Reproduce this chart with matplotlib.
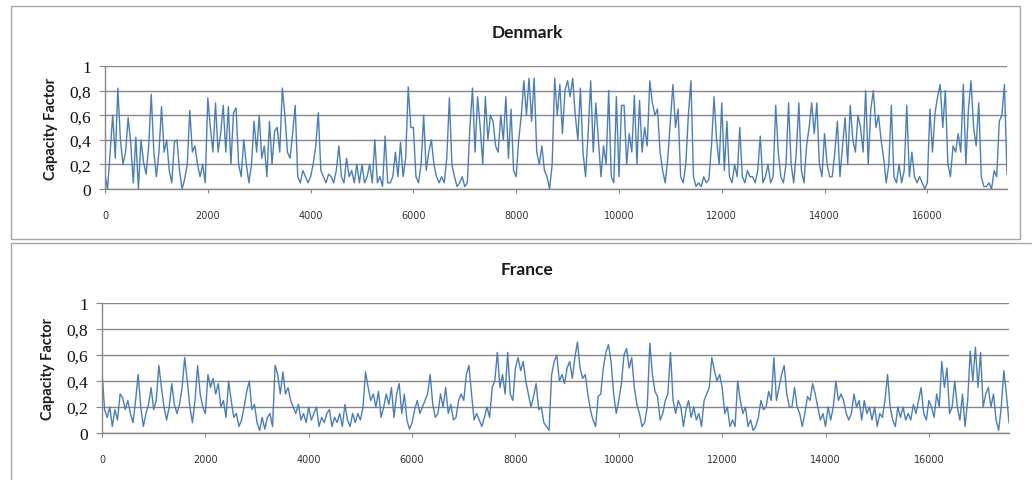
import numpy as np
import matplotlib
matplotlib.use("Agg")
import matplotlib.pyplot as plt
from matplotlib.patches import Rectangle

# hourly capacity factor, every 50 h (one row = 2000 h)
STEP_H = 50
DENMARK = [
    0.12, 0.0, 0.3, 0.6, 0.25, 0.82, 0.4, 0.2, 0.3, 0.58, 0.38, 0.05, 0.42, 0.0, 0.4, 0.22, 0.12, 0.35, 0.77, 0.3,
    0.1, 0.3, 0.67, 0.3, 0.4, 0.15, 0.05, 0.38, 0.4, 0.15, 0.0, 0.08, 0.2, 0.64, 0.3, 0.35, 0.2, 0.1, 0.2, 0.05,
    0.74, 0.5, 0.3, 0.7, 0.3, 0.45, 0.68, 0.3, 0.67, 0.2, 0.62, 0.66, 0.2, 0.1, 0.4, 0.2, 0.05, 0.2, 0.55, 0.3,
    0.6, 0.25, 0.35, 0.1, 0.55, 0.2, 0.47, 0.5, 0.3, 0.82, 0.6, 0.3, 0.25, 0.45, 0.68, 0.1, 0.05, 0.15, 0.1, 0.05,
    0.1, 0.2, 0.35, 0.62, 0.15, 0.1, 0.05, 0.12, 0.1, 0.05, 0.15, 0.35, 0.1, 0.05, 0.25, 0.1, 0.15, 0.05, 0.2, 0.05,
    0.2, 0.05, 0.1, 0.2, 0.05, 0.4, 0.05, 0.1, 0.02, 0.43, 0.05, 0.05, 0.1, 0.3, 0.1, 0.38, 0.1, 0.25, 0.83, 0.5,
    0.5, 0.1, 0.05, 0.2, 0.6, 0.15, 0.3, 0.4, 0.2, 0.1, 0.05, 0.1, 0.05, 0.25, 0.74, 0.2, 0.1, 0.02, 0.05, 0.1,
    0.02, 0.05, 0.5, 0.82, 0.3, 0.75, 0.5, 0.2, 0.75, 0.4, 0.6, 0.55, 0.35, 0.3, 0.6, 0.4, 0.75, 0.25, 0.65, 0.15,
    0.1, 0.4, 0.6, 0.88, 0.6, 0.9, 0.55, 0.9, 0.3, 0.2, 0.35, 0.15, 0.1, 0.0, 0.2, 0.9, 0.6, 0.85, 0.45, 0.8,
    0.88, 0.75, 0.9, 0.6, 0.4, 0.82, 0.3, 0.1, 0.45, 0.88, 0.3, 0.7, 0.4, 0.1, 0.35, 0.2, 0.8, 0.1, 0.05, 0.75,
    0.1, 0.68, 0.68, 0.2, 0.45, 0.3, 0.76, 0.2, 0.72, 0.3, 0.5, 0.35, 0.88, 0.7, 0.6, 0.65, 0.3, 0.15, 0.05, 0.25,
    0.55, 0.85, 0.5, 0.65, 0.1, 0.05, 0.2, 0.6, 0.88, 0.1, 0.02, 0.05, 0.02, 0.1, 0.05, 0.08, 0.35, 0.75, 0.4, 0.2,
    0.7, 0.15, 0.55, 0.1, 0.05, 0.2, 0.1, 0.5, 0.1, 0.05, 0.15, 0.1, 0.1, 0.05, 0.15, 0.43, 0.05, 0.1, 0.2, 0.05,
    0.1, 0.68, 0.3, 0.1, 0.05, 0.2, 0.7, 0.2, 0.05, 0.3, 0.7, 0.15, 0.05, 0.35, 0.5, 0.7, 0.45, 0.7, 0.2, 0.1,
    0.45, 0.2, 0.1, 0.1, 0.3, 0.55, 0.1, 0.35, 0.58, 0.2, 0.68, 0.4, 0.3, 0.6, 0.5, 0.3, 0.8, 0.2, 0.65, 0.8,
    0.5, 0.6, 0.4, 0.25, 0.05, 0.2, 0.68, 0.1, 0.05, 0.2, 0.05, 0.15, 0.68, 0.1, 0.3, 0.1, 0.05, 0.1, 0.05, 0.0,
    0.05, 0.65, 0.3, 0.62, 0.75, 0.85, 0.5, 0.8, 0.2, 0.1, 0.35, 0.3, 0.45, 0.3, 0.85, 0.2, 0.65, 0.88, 0.5, 0.35,
    0.7, 0.1, 0.02, 0.02, 0.05, 0.0, 0.15, 0.1, 0.55, 0.6, 0.85, 0.12,
]
FRANCE = [
    0.47, 0.18, 0.12, 0.2, 0.05, 0.18, 0.1, 0.3, 0.27, 0.18, 0.25, 0.15, 0.08, 0.25, 0.45, 0.2, 0.05, 0.15, 0.22, 0.35,
    0.18, 0.25, 0.52, 0.35, 0.2, 0.1, 0.2, 0.38, 0.22, 0.15, 0.22, 0.35, 0.58, 0.4, 0.2, 0.08, 0.25, 0.52, 0.3, 0.2,
    0.15, 0.45, 0.35, 0.42, 0.3, 0.38, 0.2, 0.25, 0.12, 0.4, 0.25, 0.12, 0.15, 0.05, 0.1, 0.2, 0.32, 0.4, 0.18, 0.22,
    0.08, 0.02, 0.12, 0.03, 0.12, 0.15, 0.05, 0.52, 0.45, 0.3, 0.47, 0.3, 0.35, 0.25, 0.2, 0.15, 0.22, 0.1, 0.15, 0.08,
    0.2, 0.1, 0.15, 0.2, 0.05, 0.12, 0.08, 0.15, 0.18, 0.05, 0.12, 0.08, 0.15, 0.05, 0.22, 0.1, 0.05, 0.15, 0.08, 0.15,
    0.1, 0.2, 0.47, 0.35, 0.25, 0.3, 0.2, 0.32, 0.12, 0.2, 0.3, 0.22, 0.35, 0.12, 0.3, 0.38, 0.15, 0.3, 0.1, 0.03,
    0.08, 0.18, 0.25, 0.15, 0.2, 0.25, 0.3, 0.45, 0.22, 0.12, 0.15, 0.3, 0.2, 0.35, 0.15, 0.22, 0.1, 0.12, 0.25, 0.3,
    0.25, 0.45, 0.52, 0.3, 0.1, 0.15, 0.1, 0.05, 0.12, 0.2, 0.12, 0.35, 0.4, 0.62, 0.35, 0.45, 0.3, 0.62, 0.3, 0.25,
    0.5, 0.58, 0.48, 0.55, 0.4, 0.3, 0.2, 0.28, 0.38, 0.18, 0.2, 0.08, 0.05, 0.02, 0.45, 0.55, 0.6, 0.4, 0.45, 0.38,
    0.5, 0.55, 0.42, 0.58, 0.7, 0.5, 0.42, 0.45, 0.3, 0.18, 0.1, 0.05, 0.28, 0.3, 0.5, 0.62, 0.68, 0.55, 0.3, 0.15,
    0.25, 0.38, 0.6, 0.65, 0.5, 0.58, 0.35, 0.22, 0.15, 0.05, 0.08, 0.2, 0.69, 0.45, 0.32, 0.28, 0.1, 0.15, 0.25, 0.3,
    0.62, 0.25, 0.15, 0.25, 0.2, 0.05, 0.18, 0.25, 0.12, 0.2, 0.1, 0.15, 0.05, 0.25, 0.3, 0.35, 0.58, 0.48, 0.4, 0.45,
    0.35, 0.15, 0.2, 0.05, 0.1, 0.05, 0.4, 0.25, 0.15, 0.2, 0.05, 0.1, 0.02, 0.05, 0.12, 0.25, 0.18, 0.2, 0.32, 0.25,
    0.58, 0.25, 0.35, 0.45, 0.52, 0.3, 0.2, 0.2, 0.35, 0.2, 0.15, 0.05, 0.15, 0.28, 0.25, 0.38, 0.3, 0.2, 0.1, 0.15,
    0.05, 0.2, 0.1, 0.2, 0.4, 0.25, 0.3, 0.25, 0.15, 0.1, 0.15, 0.3, 0.2, 0.25, 0.1, 0.25, 0.15, 0.2, 0.1, 0.2,
    0.05, 0.15, 0.12, 0.25, 0.45, 0.2, 0.1, 0.05, 0.2, 0.12, 0.2, 0.1, 0.15, 0.1, 0.22, 0.15, 0.25, 0.35, 0.15, 0.1,
    0.25, 0.2, 0.12, 0.3, 0.2, 0.55, 0.35, 0.5, 0.15, 0.2, 0.4, 0.2, 0.1, 0.3, 0.05, 0.25, 0.63, 0.4, 0.66, 0.35,
    0.62, 0.2, 0.3, 0.35, 0.2, 0.3, 0.1, 0.02, 0.2, 0.48, 0.3, 0.08,
]
Y_TICKS = [0, 0.2, 0.4, 0.6, 0.8, 1]
Y_LABELS = ["0", "0,2", "0,4", "0,6", "0,8", "1"]
X_TICKS = [0, 2000, 4000, 6000, 8000, 10000, 12000, 14000, 16000]
X_MAX = 17550

W, H = 1032, 481
LINE = "#4a7ebb"
GRID = "#868686"
FRAME = "#a6a6a6"


def fbox(x0, y0, x1, y1):
    """pixel box (top-left origin) -> figure-fraction [l, b, w, h]"""
    return [x0 / W, 1 - y1 / H, (x1 - x0) / W, (y1 - y0) / H]


def panel(fig, ax_px, frame_px, title, title_y, values):
    l, b, w, h = fbox(*frame_px)
    fig.patches.append(Rectangle((l, b), w, h, transform=fig.transFigure,
                                 fill=False, ec=FRAME, lw=1.0))
    fig.text(0.511, 1 - title_y / H, title, ha="center", va="center",
             fontsize=12.5, fontweight="bold", family="Lato", color="#1a1a1a")

    ax = fig.add_axes(fbox(*ax_px))
    hours = np.arange(len(values)) * STEP_H
    ax.plot(hours, values, color=LINE, lw=1.0)
    ax.set_xlim(0, X_MAX)
    ax.set_ylim(0, 1)
    ax.set_yticks(Y_TICKS)
    ax.set_yticklabels(Y_LABELS, family="Liberation Serif", fontsize=12.5, color="#111111")
    ax.set_xticks(X_TICKS)
    ax.set_xticklabels([str(t) for t in X_TICKS], fontsize=7, color="#333333")
    ax.grid(axis="y", color=GRID, lw=1.0)
    ax.set_axisbelow(True)
    for s in ("top", "right"):
        ax.spines[s].set_visible(False)
    for s in ("left", "bottom"):
        ax.spines[s].set_color(GRID)
        ax.spines[s].set_linewidth(1.0)
    ax.tick_params(axis="y", length=4, color=GRID, pad=6)
    ax.tick_params(axis="x", length=3, color=GRID, pad=12)
    ax.set_ylabel("Capacity Factor", family="Lato", fontweight="bold", fontsize=10.5,
                  color="#1a1a1a", labelpad=8)
    return ax


fig = plt.figure(figsize=(W / 100, H / 100), dpi=100)
fig.patch.set_facecolor("white")

panel(fig, (105, 67, 1007, 190), (11, 7, 1020, 240), "Denmark", 33, DENMARK)
panel(fig, (102, 304, 1009, 434), (11, 244, 1045, 490), "France", 270, FRANCE)

fig.savefig("out.png", dpi=100, facecolor="white")
